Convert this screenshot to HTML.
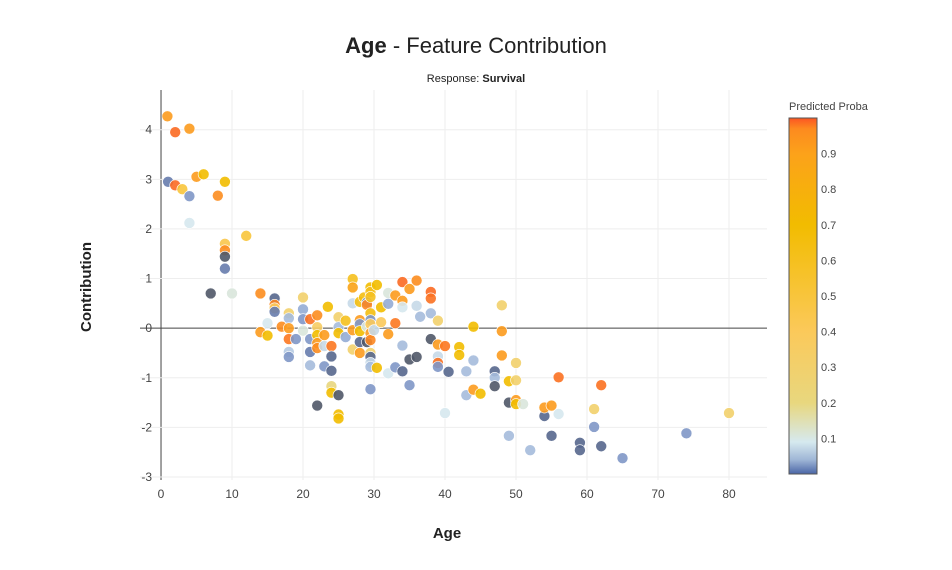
<!DOCTYPE html>
<html><head><meta charset="utf-8">
<style>
body{margin:0;background:#fff;font-family:"Liberation Sans",sans-serif;}
svg text{font-family:"Liberation Sans",sans-serif;}
</style></head>
<body>
<svg id="chart" width="952" height="565" xmlns="http://www.w3.org/2000/svg">
<defs>
<linearGradient id="cbg" x1="0" y1="1" x2="0" y2="0">
<stop offset="0" stop-color="#4a66a6"/>
<stop offset="0.04" stop-color="#9fb6d6"/>
<stop offset="0.09" stop-color="#d6e9ef"/>
<stop offset="0.2" stop-color="#e8d77e"/>
<stop offset="0.4" stop-color="#fbc95a"/>
<stop offset="0.7" stop-color="#f2bc00"/>
<stop offset="0.9" stop-color="#fca21a"/>
<stop offset="0.97" stop-color="#fd8a1f"/>
<stop offset="1" stop-color="#fb5523"/>
</linearGradient>
</defs>
<g id="grid"></g>
<g id="marks"></g>
<text x="476" y="53" text-anchor="middle" font-size="22" fill="#222"><tspan font-weight="bold">Age</tspan> - Feature Contribution</text>
<text x="476" y="82" text-anchor="middle" font-size="11" fill="#222">Response:  <tspan font-weight="bold">Survival</tspan></text>
<text transform="translate(91,287) rotate(-90)" text-anchor="middle" font-size="15" font-weight="bold" fill="#222">Contribution</text>
<text x="447" y="538" text-anchor="middle" font-size="15" font-weight="bold" fill="#222">Age</text>
<text x="789" y="110" font-size="11" fill="#444">Predicted Proba</text>
<rect x="789" y="118" width="28" height="356" fill="url(#cbg)" stroke="#555" stroke-width="1"/>
<g id="cbticks"></g>
</svg>
<script>
const ages=[0.9,2,4,1,2,3,4,5,6,9,8,4,12,9,9,9,9,7,10,14,16,20,16,16,16,15,14,15,17,18,18,18,18,18,18,19,20,20,20,21,21,21,21,22,22,22,22,22,23,23,23,23.5,24,24,24,24,24,25,22,25,25,25,25,25,26,26,27,27,27,27,27,28,28,28,28,28,28,28.6,29,29,29,29,29.5,29.5,29.5,29.5,29.5,29.5,29.5,29.5,29.5,29.5,29.5,29.5,29.5,30.4,30.4,30,31,31,32,32,32,32,33,33,33,34,34,34,34,34,35,35,35,36,36,36,36.5,38,38,38,38,39,39,39,39,39,40,40.5,40,42,42,43,43,44,44,44,45,47,47,47,48,48,48,49,49,50,50,50,50,51,49,52,54,54,55,55,56,56,59,59,61,61,62,62,65,74,80];
const contribs=[4.27,3.95,4.02,2.95,2.88,2.8,2.66,3.05,3.1,2.95,2.67,2.12,1.86,1.7,1.57,1.44,1.2,0.7,0.7,0.7,0.6,0.62,0.47,0.4,0.33,0.1,-0.08,-0.15,0.03,0.3,0.2,0,-0.22,-0.48,-0.58,-0.22,0.38,0.18,-0.05,0.18,-0.22,-0.48,-0.75,0.26,0.02,-0.14,-0.3,-0.4,-0.14,-0.36,-0.77,0.43,-0.36,-0.57,-0.86,-1.17,-1.3,-1.35,-1.56,-1.74,-1.82,0.22,0.02,-0.1,0.15,-0.18,0.99,0.82,0.5,-0.04,-0.43,0.16,0.08,-0.06,-0.28,-0.5,0.53,0.62,0.52,0.47,0.03,-0.28,0.82,0.73,0.63,0.3,0.16,0.08,-0.1,-0.24,-0.5,-0.58,-0.7,-0.78,-1.23,0.87,-0.8,-0.04,0.42,0.12,0.71,0.49,-0.12,-0.91,0.66,0.1,-0.79,0.93,0.55,0.42,-0.35,-0.87,0.79,-0.63,-1.15,0.96,-0.58,0.45,0.23,0.73,0.6,0.3,-0.22,0.15,-0.33,-0.57,-0.7,-0.78,-0.36,-0.88,-1.71,-0.38,-0.54,-0.87,-1.35,-0.65,0.03,-1.24,-1.32,-0.87,-1,-1.17,0.46,-0.06,-0.55,-1.5,-1.07,-0.7,-1.05,-1.45,-1.53,-1.53,-2.17,-2.46,-1.77,-1.6,-1.56,-2.17,-0.99,-1.73,-2.31,-2.46,-1.99,-1.63,-1.15,-2.38,-2.62,-2.12,-1.71];
const probas=[0.9,0.97,0.9,0.02,0.97,0.5,0.03,0.9,0.7,0.7,0.92,0.08,0.5,0.45,0.92,0,0.02,0,0.1,0.92,0.01,0.3,0.93,0.4,0.02,0.08,0.9,0.7,0.92,0.3,0.05,0.9,0.95,0.06,0.03,0.03,0.04,0.03,0.1,0.96,0.03,0.02,0.05,0.92,0.35,0.7,0.9,0.92,0.9,0.07,0.03,0.7,0.95,0.01,0.01,0.2,0.7,0,0,0.7,0.7,0.3,0.05,0.7,0.6,0.04,0.6,0.85,0.07,0.9,0.3,0.9,0.03,0.7,0.01,0.9,0.65,0.65,0.03,0.93,0.1,0,0.7,0.6,0.6,0.65,0.03,0.4,0.9,0.93,0.3,0.01,0.07,0.05,0.03,0.7,0.7,0.07,0.7,0.4,0.1,0.04,0.9,0.08,0.9,0.95,0.03,0.97,0.9,0.08,0.05,0.01,0.9,0,0.03,0.92,0,0.07,0.05,0.97,0.96,0.05,0,0.3,0.9,0.07,0.96,0.03,0.95,0.01,0.08,0.7,0.7,0.05,0.05,0.05,0.7,0.9,0.7,0.01,0.05,0,0.3,0.9,0.9,0,0.7,0.3,0.3,0.9,0.7,0.1,0.05,0.05,0.01,0.9,0.9,0.01,0.96,0.08,0.01,0.01,0.03,0.3,0.96,0.01,0.03,0.03,0.3];
const xTicks=[0,10,20,30,40,50,60,70,80];
const yTicks=[-3,-2,-1,0,1,2,3,4];
const cbTicks=[0.1,0.2,0.3,0.4,0.5,0.6,0.7,0.8,0.9];

const L=140,R=767,T=90,B=480;
const xMin=-2.96,xMax=85.35,yMin=-3.06,yMax=4.8;
function sx(v){return L+(v-xMin)/(xMax-xMin)*(R-L);}
function sy(v){return B-(v-yMin)/(yMax-yMin)*(B-T);}
const stops=[[0,[80,88,104]],[0.015,[90,110,160]],[0.035,[140,165,210]],[0.08,[214,232,238]],[0.2,[232,214,126]],[0.4,[251,201,90]],[0.7,[242,188,0]],[0.9,[252,155,30]],[1,[251,85,35]]];
function color(p){
  for(let i=1;i<stops.length;i++){if(p<=stops[i][0]){const a=stops[i-1],b=stops[i];const t=(p-a[0])/(b[0]-a[0]);
    const c=a[1].map((v,k)=>Math.round(v+(b[1][k]-v)*t));return `rgb(${c[0]},${c[1]},${c[2]})`;}}
  return 'rgb(251,85,35)';
}
const NS='http://www.w3.org/2000/svg';
const grid=document.getElementById('grid');
xTicks.forEach(t=>{
  const l=document.createElementNS(NS,'line');
  
  
  l.setAttribute('x1',sx(t));l.setAttribute('x2',sx(t));l.setAttribute('y1',T);l.setAttribute('y2',B);
  l.setAttribute('stroke',t===0?'#444':'#eee');l.setAttribute('stroke-width','1');
  grid.appendChild(l);
  const tx=document.createElementNS(NS,'text');
  
  
  tx.setAttribute('x',sx(t));tx.setAttribute('y',498);tx.setAttribute('text-anchor','middle');
  tx.setAttribute('font-size','12');tx.setAttribute('fill','#444');tx.textContent=t;
  grid.appendChild(tx);
});
yTicks.forEach(t=>{
  const l=document.createElementNS(NS,'line');
  
  
  l.setAttribute('x1',L);l.setAttribute('x2',R);l.setAttribute('y1',sy(t));l.setAttribute('y2',sy(t));
  l.setAttribute('stroke',t===0?'#444':'#eee');l.setAttribute('stroke-width','1');
  grid.appendChild(l);
  const tx=document.createElementNS(NS,'text');
  
  
  tx.setAttribute('x',152);tx.setAttribute('y',sy(t)+4);tx.setAttribute('text-anchor','end');
  tx.setAttribute('font-size','12');tx.setAttribute('fill','#444');tx.textContent=t;
  grid.appendChild(tx);
});
const marks=document.getElementById('marks');
ages.forEach((a,i)=>{
  const c=document.createElementNS(NS,'circle');
  
  
  c.setAttribute('cx',sx(a));c.setAttribute('cy',sy(contribs[i]));c.setAttribute('r',5.5);
  c.setAttribute('fill',color(probas[i]));c.setAttribute('fill-opacity','0.9');
  c.setAttribute('stroke','#fff');c.setAttribute('stroke-width','0.6');
  marks.appendChild(c);
});
const cb=document.getElementById('cbticks');
cbTicks.forEach(t=>{
  const tx=document.createElementNS(NS,'text');
  
  
  tx.setAttribute('x',821);tx.setAttribute('y',474-t*356+4);
  tx.setAttribute('font-size','11');tx.setAttribute('fill','#444');tx.textContent=t;
  cb.appendChild(tx);
});
</script>
</body></html>
